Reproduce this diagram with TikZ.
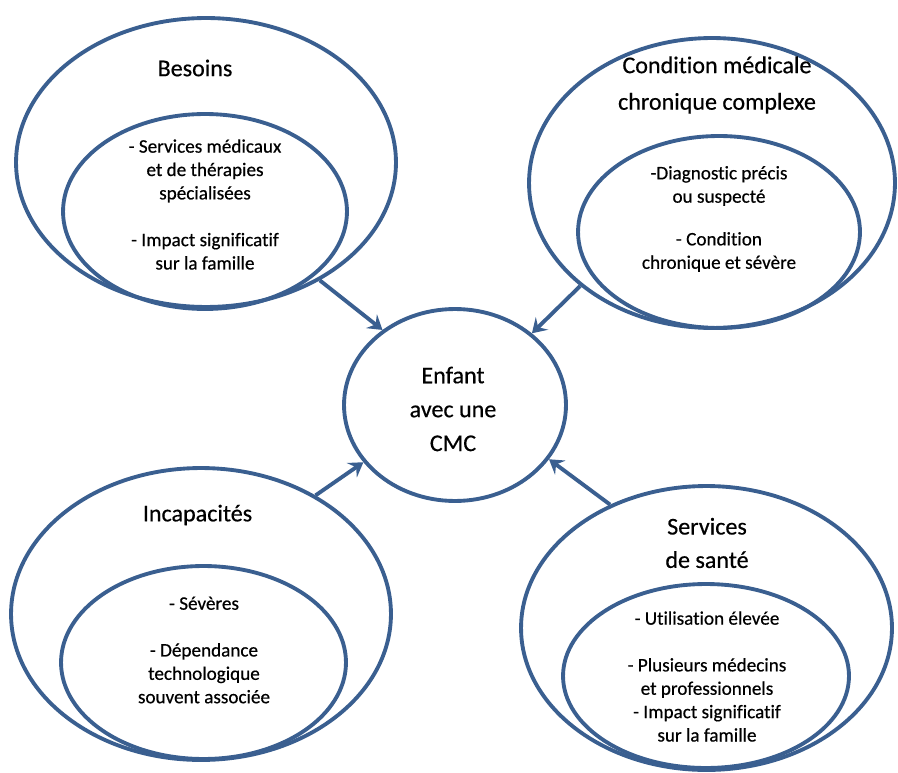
\documentclass[tikz,border=0pt]{standalone}
\usepackage{fontspec}
\setmainfont{Carlito}[Ligatures=NoCommon, FakeBold=0.5]
\usetikzlibrary{shapes.geometric,arrows.meta}
\definecolor{ringblue}{HTML}{3A5F90}
\begin{document}
\begin{tikzpicture}[x=0.02cm,y=-0.02cm,
  ring/.style={ellipse, draw=ringblue, line width=2.2pt, inner sep=0pt},
  heading/.style={align=center, inner sep=0pt, font=\fontsize{13.7}{19.3}\selectfont},
  detail/.style={align=center, inner sep=0pt, font=\fontsize{10.9}{13.3}\selectfont},
  link/.style={draw=ringblue, line width=2.2pt, -{Stealth[length=8pt,width=10pt,inset=3pt]}}]
\useasboundingbox (0,0) rectangle (898,773);

% centre
\node[ring, minimum width=4.44cm, minimum height=3.84cm] (child) at (455,405) {};
\node[heading] (childtxt) at (453,409) {Enfant\\avec une\\CMC};

% Besoins
\node[ring, minimum width=7.60cm, minimum height=5.78cm] (needsout) at (206,162.5) {};
\node[ring, minimum width=5.68cm, minimum height=3.90cm] (needsin) at (205,211.5) {};
\node[heading] (needstitle) at (195,68) {Besoins};
\node[detail] (needstxt) at (205,204.5) {- Services médicaux\\et de thérapies\\spécialisées\\[13.3pt]- Impact significatif\\sur la famille};

% Condition médicale chronique complexe
\node[ring, minimum width=7.32cm, minimum height=5.80cm] (condout) at (712,183) {};
\node[ring, minimum width=5.64cm, minimum height=3.84cm] (condin) at (719,232) {};
\node[heading, font=\fontsize{13.7}{20.8}\selectfont] (condtitle) at (717,85) {Condition médicale\\chronique complexe};
\node[detail] (condtxt) at (719,219) {-Diagnostic précis\\ou suspecté\\[11pt]- Condition\\chronique et sévère};

% Incapacités
\node[ring, minimum width=7.60cm, minimum height=5.84cm] (disout) at (201,614) {};
\node[ring, minimum width=5.70cm, minimum height=3.86cm] (disin) at (203.5,662.5) {};
\node[heading] (distitle) at (197.5,515) {Incapacités};
\node[detail] (distxt) at (204,650) {- Sévères\\[13.3pt]- Dépendance\\technologique\\souvent associée};

% Services de santé
\node[ring, minimum width=7.42cm, minimum height=5.68cm] (servout) at (706.5,628) {};
\node[ring, minimum width=5.72cm, minimum height=3.68cm] (servin) at (706,676) {};
\node[heading, font=\fontsize{13.7}{19}\selectfont] (servtitle) at (707,543) {Services\\de santé};
\node[detail] (servtxt) at (707,676.5) {- Utilisation élevée\\[13.3pt]- Plusieurs médecins\\et professionnels\\- Impact significatif\\sur la famille};

% arrows towards the child
\draw[link] (needsout.-46) -- (child.134);
\draw[link] (condout.-142) -- (child.43);
\draw[link] (disout.46) -- (child.-148);
\draw[link] (servout.128) -- (child.-30);
\end{tikzpicture}
\end{document}
